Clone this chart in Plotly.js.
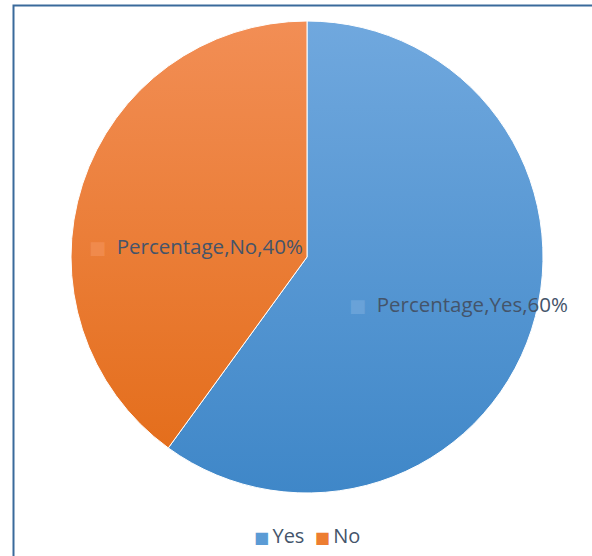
<!DOCTYPE html>
<html>
<head>
<meta charset="utf-8">
<script src="https://cdn.plot.ly/plotly-3.0.1.min.js"></script>
<style>
html,body{margin:0;padding:0;background:#fff;}
#chart{width:592px;height:556px;}
</style>
</head>
<body>
<div id="chart"></div>
<script>
var categories = ["Yes", "No"];
var values = [60, 40];
var seriesName = "Percentage";
var sliceColors = ["#5b9bd5", "#ed7d31"];
var gradTop = ["#70a8de", "#f28e55"];
var gradBottom = ["#3f87c8", "#e46e1c"];
var keyColors = ["#69a2d8", "#f08a4c"];

var total = values.reduce(function(a,b){return a+b;},0);
var FONT = "Open Sans, Liberation Sans, sans-serif";
var TEXTCOL = "#44546a";

var trace = {
  type: "pie",
  labels: categories,
  values: values,
  sort: false,
  direction: "clockwise",
  rotation: 0,
  marker: {colors: sliceColors, line: {color: "#ffffff", width: 1}},
  textinfo: "none",
  hoverinfo: "label+percent",
  domain: {x: [70/592, 544/592], y: [1-493/556, 1-21/556]},
  showlegend: false
};

function sq(color, size){
  return '<span style="font-family:DejaVu Sans;font-size:' + size + 'px;color:' + color + '">■</span>';
}

// label positions (paper coords) for data labels
var labelPos = [
  {x: 347/592, y: 1-304/556},
  {x: 87/592,  y: 1-246/556}
];

var annotations = categories.map(function(c, i){
  var pct = Math.round(values[i]/total*100);
  return {
    xref: "paper", yref: "paper",
    x: labelPos[i].x, y: labelPos[i].y,
    xanchor: "left", yanchor: "middle",
    showarrow: false,
    text: sq(keyColors[i], 18) + '  ' + seriesName + "," + c + "," + pct + "%",
    font: {family: FONT, size: 20.5, color: TEXTCOL}
  };
});

// legend built from categories
annotations.push({
  xref: "paper", yref: "paper",
  x: 252/592, y: 1-535/556, xanchor: "left", yanchor: "middle",
  showarrow: false,
  text: categories.map(function(c, i){ return sq(sliceColors[i], 16) + '\u2009' + c; }).join('  '),
  font: {family: FONT, size: 20, color: TEXTCOL}
});

var layout = {
  width: 592, height: 556,
  margin: {l: 0, r: 0, t: 0, b: 0},
  paper_bgcolor: "#ffffff",
  showlegend: false,
  annotations: annotations,
  shapes: [{
    type: "rect", xref: "paper", yref: "paper",
    x0: 13.5/592, x1: 1.05, y0: -0.05, y1: 1-5.5/556,
    line: {color: "#3a6a9b", width: 2}, fillcolor: "rgba(0,0,0,0)", layer: "above"
  }]
};

Plotly.newPlot("chart", [trace], layout, {displayModeBar: false, staticPlot: true}).then(function(gd){
  var svg = gd.querySelector(".main-svg");
  var ns = "http://www.w3.org/2000/svg";
  var defs = svg.querySelector("defs") || svg.insertBefore(document.createElementNS(ns, "defs"), svg.firstChild);
  categories.forEach(function(c, i){
    var g = document.createElementNS(ns, "linearGradient");
    g.setAttribute("id", "grad" + i);
    g.setAttribute("x1", "0"); g.setAttribute("y1", "0");
    g.setAttribute("x2", "0"); g.setAttribute("y2", "1");
    g.setAttribute("gradientUnits", "objectBoundingBox");
    var s1 = document.createElementNS(ns, "stop");
    s1.setAttribute("offset", "0"); s1.setAttribute("stop-color", gradTop[i]);
    var s2 = document.createElementNS(ns, "stop");
    s2.setAttribute("offset", "1"); s2.setAttribute("stop-color", gradBottom[i]);
    g.appendChild(s1); g.appendChild(s2);
    defs.appendChild(g);
  });
  gd.querySelectorAll(".slice path.surface").forEach(function(p, i){
    p.style.fill = "url(#grad" + i + ")";
  });
});
</script>
</body>
</html>
